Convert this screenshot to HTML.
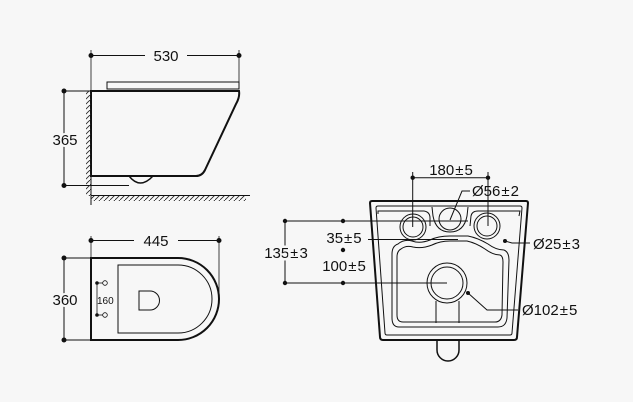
<!DOCTYPE html>
<html><head><meta charset="utf-8"><style>
html,body{margin:0;padding:0;background:#f7f7f7;}
svg{display:block;}
text{font-family:"Liberation Sans",sans-serif;fill:#111;}
.pm{font-size:16px;}
</style></head><body>
<svg width="633" height="402" viewBox="0 0 633 402" xmlns="http://www.w3.org/2000/svg">
<defs>
<pattern id="hw" width="5" height="5" patternUnits="userSpaceOnUse"><path d="M0 5 L5 0" stroke="#222" stroke-width="0.8"/></pattern>
</defs>
<g fill="none" stroke="#111">
<line x1="91" y1="55.5" x2="239" y2="55.5" stroke-width="1"/>
<line x1="91" y1="50" x2="91" y2="91" stroke-width="0.8"/>
<line x1="239" y1="50" x2="239" y2="82" stroke-width="0.8"/>
<rect x="107" y="82" width="132" height="7" stroke-width="1"/>
<path d="M91 91 L239 91 Q240 97 236 104 L205 170 Q202 176 196 176 L91 176 Z" stroke-width="2"/>
<path d="M129 176 Q140 190 153 176" stroke-width="1.5"/>
<line x1="64" y1="91" x2="91" y2="91" stroke-width="1"/>
<line x1="64" y1="185.5" x2="129" y2="185.5" stroke-width="1"/>
<line x1="64" y1="91" x2="64" y2="185.5" stroke-width="1"/>
<line x1="91" y1="91" x2="91" y2="205" stroke-width="1"/>
<rect x="86" y="91" width="5" height="105" fill="url(#hw)" stroke="none"/>
<line x1="91" y1="195.5" x2="250" y2="195.5" stroke-width="1"/>
<rect x="91" y="196" width="155" height="5" fill="url(#hw)" stroke="none"/>
<line x1="91" y1="240.5" x2="219" y2="240.5" stroke-width="1"/>
<line x1="91" y1="236" x2="91" y2="258" stroke-width="0.8"/>
<line x1="219" y1="236" x2="219" y2="299" stroke-width="0.8"/>
<path d="M91 258 L178 258 A41 41 0 0 1 178 340 L91 340 Z" stroke-width="2"/>
<path d="M118 265 L178 265 A34 34 0 0 1 178 333 L118 333 Z" stroke-width="1"/>
<path d="M139 291 L150 291 A9.5 9.5 0 0 1 150 310 L139 310 Z" stroke-width="1"/>
<line x1="64" y1="258" x2="91" y2="258" stroke-width="1"/>
<line x1="64" y1="340" x2="91" y2="340" stroke-width="1"/>
<line x1="64" y1="258" x2="64" y2="340" stroke-width="1"/>
<line x1="97" y1="283" x2="97" y2="315" stroke-width="0.8"/>
<line x1="97" y1="283" x2="103" y2="283" stroke-width="0.8"/>
<line x1="97" y1="315" x2="103" y2="315" stroke-width="0.8"/>
<circle cx="105" cy="283" r="2.3" stroke-width="0.8"/>
<circle cx="105" cy="315" r="2.3" stroke-width="0.8"/>
<path d="M372 201 L526 201 Q528 201 528 203 L517 337 Q517 340 514 340 L383 340 Q380 340 380 337 L370 203 Q370 201 372 201 Z" stroke-width="2"/>
<path d="M378 206 L520 206 Q522 206 522 208 L512 333 Q512 335 510 335 L387 335 Q385 335 385 333 L376 208 Q376 206 378 206 Z" stroke-width="1"/>
<path d="M437 341 L437 350 A11 11 0 0 0 459 350 L459 341" stroke-width="1.5"/>
<path d="M378 214 L378 211 L424 211 Q430 212 430 218 L430 226 M432 207 L433 216 Q436 232 450 232 Q464 232 467 216 L468 207 M470 226 L471 216 Q472 211 478 211 L520 211 L519 216" stroke-width="1"/>
<circle cx="413" cy="227" r="13" stroke-width="1"/>
<circle cx="413" cy="227" r="10" stroke-width="1"/>
<circle cx="450" cy="219" r="11" stroke-width="1"/>
<circle cx="487" cy="226" r="13" stroke-width="1"/>
<circle cx="487" cy="226" r="10" stroke-width="1"/>
<path d="M398 244 Q404 239 412 241 Q420 244 430 240 Q438 236 450 236 L468 236 Q478 238 488 244 Q496 250 504 250 Q509 252 509 260 L507 318 Q506 327 498 327 L399 327 Q392 327 392 318 L392 254 Q392 246 398 244 Z" stroke-width="1"/>
<path d="M401 249 Q406 245 413 247 Q422 249 432 245 Q440 241 450 241 L467 241 Q476 243 485 249 Q493 255 500 255 Q503 256 503 262 L502 315 Q501 322 495 322 L403 322 Q397 322 397 315 L397 257 Q397 251 401 249 Z" stroke-width="1"/>
<circle cx="447" cy="283" r="20" stroke-width="1"/>
<circle cx="447" cy="283" r="16" stroke-width="1"/>
<line x1="436" y1="301" x2="436" y2="323" stroke-width="1"/>
<line x1="459" y1="301" x2="459" y2="323" stroke-width="1"/>
<line x1="412.7" y1="177.7" x2="488" y2="177.7" stroke-width="1"/>
<line x1="412.7" y1="172" x2="412.7" y2="227" stroke-width="1"/>
<line x1="488" y1="172" x2="488" y2="226" stroke-width="1"/>
<line x1="285" y1="221" x2="468" y2="221" stroke-width="1"/>
<line x1="285" y1="283" x2="447" y2="283" stroke-width="1"/>
<line x1="285" y1="221" x2="285" y2="283" stroke-width="1"/>
<line x1="368" y1="239.5" x2="458" y2="239.5" stroke-width="1"/>
<path d="M450 220 L462 191 L470 191" stroke-width="1"/>
<path d="M505 241 L512 243 L530 243" stroke-width="1"/>
<path d="M468 293 L487 310 L518 310" stroke-width="1"/>
</g>
<g fill="#111">
<circle cx="91" cy="55.5" r="2.5"/><circle cx="239" cy="55.5" r="2.5"/>
<circle cx="64" cy="91" r="2.5"/><circle cx="64" cy="185.5" r="2.5"/>
<circle cx="91" cy="240.5" r="2.5"/><circle cx="219" cy="240.5" r="2.5"/>
<circle cx="64" cy="258" r="2.5"/><circle cx="64" cy="340" r="2.5"/>
<circle cx="97" cy="283" r="1.8"/><circle cx="97" cy="315" r="1.8"/>
<circle cx="412.7" cy="177.7" r="2.2"/><circle cx="488" cy="177.7" r="2.2"/>
<circle cx="285" cy="221" r="2.2"/><circle cx="285" cy="283" r="2.2"/>
<circle cx="343" cy="221" r="2.2"/><circle cx="343" cy="250" r="2.2"/><circle cx="343" cy="283" r="2.2"/>
<circle cx="505" cy="241" r="2"/><circle cx="468" cy="293" r="2"/>
</g>
<g font-size="15">
<rect x="145" y="46" width="42" height="18" fill="#f7f7f7"/>
<text x="166" y="61" text-anchor="middle">530</text>
<text x="65" y="145" text-anchor="middle" style="paint-order:stroke" stroke="#f7f7f7" stroke-width="4">365</text>
<rect x="134" y="231" width="44" height="18" fill="#f7f7f7"/>
<text x="156" y="246" text-anchor="middle">445</text>
<text x="65" y="305" text-anchor="middle" style="paint-order:stroke" stroke="#f7f7f7" stroke-width="4">360</text>
<text x="97" y="304" font-size="10">160</text>
<text x="451" y="175" text-anchor="middle" style="paint-order:stroke" stroke="#f7f7f7" stroke-width="4">180<tspan dx="1">±</tspan><tspan dx="1">5</tspan></text>
<text x="472" y="196">Ø56<tspan dx="1">±</tspan><tspan dx="1">2</tspan></text>
<text x="286" y="258" text-anchor="middle" style="paint-order:stroke" stroke="#f7f7f7" stroke-width="5">135<tspan dx="1">±</tspan><tspan dx="1">3</tspan></text>
<text x="344" y="243" text-anchor="middle" style="paint-order:stroke" stroke="#f7f7f7" stroke-width="4">35<tspan dx="1">±</tspan><tspan dx="1">5</tspan></text>
<text x="344" y="271" text-anchor="middle">100<tspan dx="1">±</tspan><tspan dx="1">5</tspan></text>
<text x="533" y="249">Ø25<tspan dx="1">±</tspan><tspan dx="1">3</tspan></text>
<text x="522" y="315">Ø102<tspan dx="1">±</tspan><tspan dx="1">5</tspan></text>
</g>
</svg>
</body></html>
